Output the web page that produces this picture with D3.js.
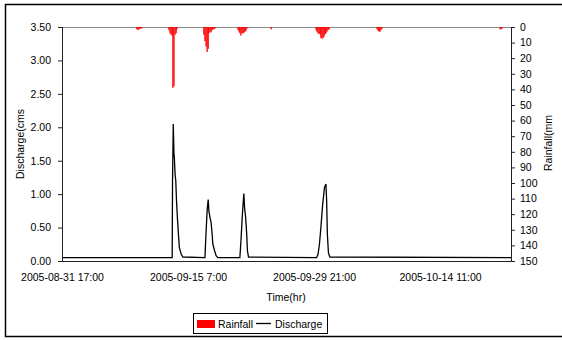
<!DOCTYPE html>
<html lang="en">
  <head>
    <title>Discharge and Rainfall</title>
    <script src="https://d3js.org/d3.v7.min.js" charset="utf-8"></script>
    <style type="text/css">
      body {
        margin: 0;
        background: white;
        font-family: "Liberation Sans", Arial, sans-serif;
      }
      text {
        font-size: 10.5px;
        fill: #000;
      }
    </style>
  </head>
  <body>
    <script>
      // hours counted from 2005-08-31 17:00
      var hourSpan = [0, 1247];
      var tickHours = [0, 350, 700, 1050];
      var tickLabels = ["2005-08-31 17:00", "2005-09-15 7:00", "2005-09-29 21:00", "2005-10-14 11:00"];

      var dischargeTicks = [0, 0.5, 1, 1.5, 2, 2.5, 3, 3.5];
      var rainTicks = [0, 10, 20, 30, 40, 50, 60, 70, 80, 90, 100, 110, 120, 130, 140, 150];

      // discharge (cms)
      var qHours = [0, 306, 307, 309, 311, 312, 314, 316, 318, 321, 324, 326, 331, 336,
        397, 399, 403, 406, 408, 411, 414, 417, 419, 424, 428, 433,
        494, 497, 501, 505, 507, 510, 513, 515, 518,
        707, 711, 715, 719, 724, 726, 729, 733, 735, 737, 740, 744, 1247];
      var qValues = [0.05, 0.05, 1.2, 2.05, 1.6, 1.55, 1.3, 1.2, 0.9, 0.6, 0.35, 0.2, 0.1, 0.06,
        0.05, 0.3, 0.75, 0.92, 0.75, 0.65, 0.58, 0.4, 0.25, 0.15, 0.08, 0.05,
        0.05, 0.3, 0.7, 1.01, 0.8, 0.65, 0.4, 0.15, 0.06,
        0.05, 0.1, 0.25, 0.5, 0.85, 0.95, 1.1, 1.15, 0.9, 0.4, 0.12, 0.06, 0.05];

      // rainfall (mm)
      var rainHours = [208, 211, 214, 217, 219, 222,
        297, 300, 303, 306, 308, 311, 314, 317, 319,
        394, 397, 400, 403, 406, 408, 411, 414, 417, 419, 422, 425,
        489, 492, 494, 497, 500, 503, 506, 508, 511, 514,
        581,
        706, 708, 711, 714, 717, 719, 722, 725, 728, 731, 733, 736, 739, 742,
        875, 878, 881, 883, 886, 889,
        1217, 1219, 1222];
      var rainValues = [1.5, 2, 1.5, 1, 1, 0.8,
        2, 4, 5, 5.5, 39, 38, 5, 4, 1.5,
        5, 9, 12.5, 16, 14, 4, 3, 3.5, 2, 1.5, 1.5, 1,
        2, 3, 4, 5.5, 4, 4, 3.5, 3, 2.5, 1,
        1.5,
        2, 3, 4, 4.5, 4.5, 7, 7.5, 7, 6, 4.5, 4, 3, 2, 1.5,
        1.5, 2.5, 3, 3, 2, 1,
        1.5, 1.5, 1];

      var width = 562;
      var height = 340;
      var plotLeft = 62, plotRight = 511, plotTop = 27, plotBottom = 261;

      var svg = d3.select("body")
        .append("svg")
        .attr("width", width)
        .attr("height", height);

      // chart border (right edge runs past the picture)
      svg.append("rect")
        .attr("x", 5.5).attr("y", 4.5)
        .attr("width", 570).attr("height", 332)
        .attr("fill", "none")
        .attr("stroke", "#000")
        .attr("stroke-width", 1.5);

      var x = d3.scaleLinear().domain(hourSpan).range([plotLeft, plotRight]);
      var yQ = d3.scaleLinear().domain([0, 3.5]).range([plotBottom, plotTop]);
      var yR = d3.scaleLinear().domain([0, 150]).range([plotTop, plotBottom]);

      // top line of rainfall axis
      svg.append("line")
        .attr("x1", plotLeft).attr("x2", plotRight)
        .attr("y1", plotTop + 0.5).attr("y2", plotTop + 0.5)
        .attr("stroke", "#888");

      // rainfall bars hanging from the top
      svg.append("g")
        .selectAll("rect")
        .data(rainHours)
        .enter()
        .append("rect")
        .attr("x", function(d) { return x(d) - 0.65; })
        .attr("y", yR(0))
        .attr("width", 1.3)
        .attr("height", function(d, i) { return yR(rainValues[i]) - yR(0); })
        .attr("fill", "#ff0000");

      // discharge line
      var line = d3.line()
        .x(function(d) { return x(d); })
        .y(function(d, i) { return yQ(qValues[i]); });

      svg.append("path")
        .datum(qHours)
        .attr("d", line)
        .attr("fill", "none")
        .attr("stroke", "#000")
        .attr("stroke-width", 1.3);

      // left axis
      var leftAxis = svg.append("g")
        .attr("transform", "translate(" + plotLeft + ",0)")
        .call(d3.axisLeft(yQ).tickValues(dischargeTicks).tickSize(4).tickPadding(7)
          .tickFormat(d3.format(".2f")));

      // right axis
      var rightAxis = svg.append("g")
        .attr("transform", "translate(" + plotRight + ",0)")
        .call(d3.axisRight(yR).tickValues(rainTicks).tickSize(4).tickPadding(5));

      // bottom axis
      var bottomAxis = svg.append("g")
        .attr("transform", "translate(0," + plotBottom + ")")
        .call(d3.axisBottom(x).tickValues(tickHours).tickSize(0).tickPadding(13)
          .tickFormat(function(d, i) { return tickLabels[i]; }));

      [leftAxis, rightAxis, bottomAxis].forEach(function(a) {
        a.select(".domain").attr("stroke", "#222");
        a.selectAll(".tick line").attr("stroke", "#222");
        a.selectAll("text").attr("font-size", "10.5px")
          .attr("font-family", "Liberation Sans, Arial, sans-serif");
      });
      leftAxis.select(".domain").attr("d", "M0.5," + plotTop + "V" + plotBottom);
      rightAxis.select(".domain").attr("d", "M0.5," + plotTop + "V" + plotBottom);
      bottomAxis.select(".domain").attr("d", "M" + plotLeft + ",0.5H" + plotRight);

      // axis titles
      svg.append("text")
        .attr("transform", "translate(24,144) rotate(-90)")
        .attr("text-anchor", "middle")
        .text("Discharge(cms");

      svg.append("text")
        .attr("transform", "translate(552,143) rotate(-90)")
        .attr("text-anchor", "middle")
        .text("Rainfall(mm");

      svg.append("text")
        .attr("x", 286).attr("y", 301)
        .attr("text-anchor", "middle")
        .text("Time(hr)");

      // legend
      var legend = svg.append("g");
      legend.append("rect")
        .attr("x", 193.5).attr("y", 313.5)
        .attr("width", 134).attr("height", 20)
        .attr("fill", "white").attr("stroke", "#000");
      legend.append("rect")
        .attr("x", 197).attr("y", 320)
        .attr("width", 18).attr("height", 8)
        .attr("fill", "#ff0000");
      legend.append("text")
        .attr("x", 218).attr("y", 327.5)
        .text("Rainfall");
      legend.append("line")
        .attr("x1", 256).attr("x2", 271)
        .attr("y1", 323.5).attr("y2", 323.5)
        .attr("stroke", "#000").attr("stroke-width", 1.3);
      legend.append("text")
        .attr("x", 275).attr("y", 327.5)
        .text("Discharge");
    </script>
  </body>
</html>
